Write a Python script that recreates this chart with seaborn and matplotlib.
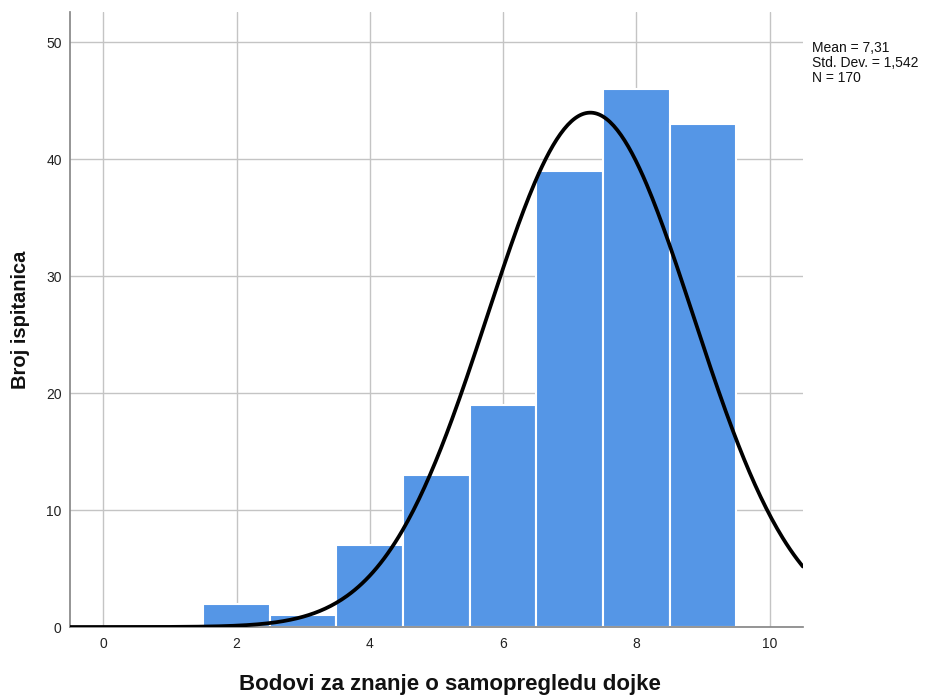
import matplotlib
matplotlib.use("Agg")
import matplotlib.pyplot as plt
import numpy as np
import pandas as pd
import seaborn as sns

# Histogram data (points -> number of respondents)
scores = [2, 3, 4, 5, 6, 7, 8, 9]
counts = [2, 1, 7, 13, 19, 39, 46, 43]

mean = 7.31
std_dev = 1.542
n_total = 170

x_ticks = [0, 2, 4, 6, 8, 10]
y_ticks = [0, 10, 20, 30, 40, 50]

sns.set_theme(style="white")
plt.rcParams["font.family"] = ["Liberation Sans", "DejaVu Sans"]

fig = plt.figure(figsize=(9.26, 6.97), dpi=100)
ax = fig.add_axes([0.0756, 0.1004, 0.7914, 0.8826])

df = pd.DataFrame({"score": scores, "count": counts})
sns.histplot(
    data=df, x="score", weights="count", discrete=True,
    color="#5596E6", edgecolor="white", linewidth=1.5, alpha=1,
    ax=ax, zorder=2,
)

# fitted normal curve, scaled to counts (bin width 1)
xs = np.linspace(-0.5, 10.5, 400)
ys = n_total / (std_dev * np.sqrt(2 * np.pi)) * np.exp(-0.5 * ((xs - mean) / std_dev) ** 2)
sns.lineplot(x=xs, y=ys, color="black", linewidth=2.7, ax=ax, zorder=3)

ax.set_xlim(-0.5, 10.5)
ax.set_ylim(0, 52.6)
ax.set_xticks(x_ticks)
ax.set_yticks(y_ticks)
ax.set_xticklabels([str(t) for t in x_ticks], fontsize=10)
ax.set_yticklabels([str(t) for t in y_ticks], fontsize=10)
ax.tick_params(axis="x", length=0, pad=7, colors="#222222")
ax.tick_params(axis="y", length=0, pad=6, colors="#222222")
ax.grid(True, color="#c4c4c4", linewidth=1, zorder=0)
ax.set_axisbelow(True)

for side in ["top", "right"]:
    ax.spines[side].set_visible(False)
ax.spines["left"].set_color("#888888")
ax.spines["bottom"].set_color("#888888")

ax.set_xlabel("Bodovi za znanje o samopregledu dojke", fontsize=16, fontweight="bold", color="#111111")
ax.set_ylabel("Broj ispitanica", fontsize=14.5, fontweight="bold", color="#111111")
ax.xaxis.set_label_coords(0.518, -0.094)
ax.yaxis.set_label_coords(-0.068, 0.5)
ax.xaxis.label.set_va("center")
ax.yaxis.label.set_va("center")

fig.text(812 / 926, 1 - 41 / 697,
         f"Mean = 7,31\nStd. Dev. = 1,542\nN = {n_total}",
         fontsize=10, va="top", ha="left", linespacing=1.08, color="#111111")

fig.savefig("out.png", dpi=100)
